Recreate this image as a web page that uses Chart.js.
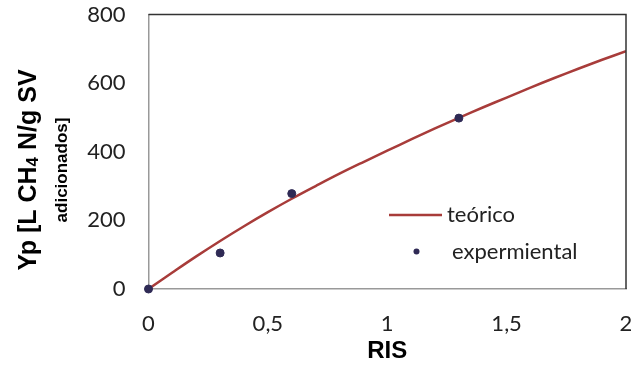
<!DOCTYPE html>
<html>
<head>
<meta charset="utf-8">
<script src="https://cdn.jsdelivr.net/npm/chart.js@4"></script>
<style>
  html, body { margin: 0; padding: 0; background: #fff; }
  #wrap { width: 631px; height: 366px; }
</style>
</head>
<body>
<div id="wrap"><canvas id="yp"></canvas></div>
<script>
// curva teórica (RIS vs Yp)
const risTeo = [0, 0.1, 0.2, 0.3, 0.4, 0.5, 0.6, 0.7, 0.8, 0.9, 1.0, 1.1, 1.2, 1.3, 1.4, 1.5, 1.6, 1.7, 1.8, 1.9, 2.0]
const ypTeo = [0, 48, 95, 140, 183, 224, 263, 300, 336, 370, 403, 436, 468, 499, 529, 558, 587, 615, 642, 668, 693]

// puntos experimentales
const risExp = [0, 0.3, 0.6, 1.3]
const ypExp = [0, 105, 278, 498]

const xTickLabels = ['0', '0,5', '1', '1,5', '2']
const yTickLabels = ['0', '200', '400', '600', '800']

const tickFont = { family: 'Lato', size: 22 }
const lineColor = '#a83c3a'
const dotColor = '#2f2a55'

function noPad(s) {
    s.paddingLeft = 0
    s.paddingRight = 0
    s.paddingTop = 0
    s.paddingBottom = 0
}

// marco superior y derecho del área de trazado + título del eje Y + leyenda
const extras = {
    id: 'extras',
    afterDraw(chart) {
        const { ctx, chartArea: a } = chart
        ctx.save()
        ctx.strokeStyle = '#333'
        ctx.lineWidth = 1.5
        ctx.beginPath()
        ctx.moveTo(a.left, a.top)
        ctx.lineTo(a.right, a.top)
        ctx.lineTo(a.right, a.bottom)
        ctx.stroke()

        // título eje Y, girado
        ctx.translate(29, 170)
        ctx.rotate(-Math.PI / 2)
        ctx.fillStyle = '#000'
        ctx.textBaseline = 'middle'
        const parts = [
            { t: 'Yp [L CH', f: 'bold 25px "Liberation Sans"', dy: 0 },
            { t: '4', f: 'bold 17px "Liberation Sans"', dy: 4 },
            { t: ' N/g SV', f: 'bold 25px "Liberation Sans"', dy: 0 },
        ]
        let w = 0
        parts.forEach(p => { ctx.font = p.f; w += ctx.measureText(p.t).width })
        let x = -w / 2
        ctx.textAlign = 'left'
        parts.forEach(p => {
            ctx.font = p.f
            ctx.fillText(p.t, x, p.dy)
            x += ctx.measureText(p.t).width
        })
        ctx.font = 'bold 17px "Liberation Sans"'
        ctx.textAlign = 'center'
        ctx.fillText('adicionados]', 0, 33)
        ctx.restore()

        // leyenda
        ctx.save()
        ctx.font = '22px Lato'
        ctx.fillStyle = '#222'
        ctx.textBaseline = 'middle'
        ctx.strokeStyle = lineColor
        ctx.lineWidth = 2.5
        ctx.beginPath()
        ctx.moveTo(389, 215)
        ctx.lineTo(442, 215)
        ctx.stroke()
        ctx.fillText(chart.data.datasets[0].label, 447, 215)
        ctx.fillStyle = dotColor
        ctx.beginPath()
        ctx.arc(416.5, 251.5, 3, 0, Math.PI * 2)
        ctx.fill()
        ctx.fillStyle = '#222'
        ctx.fillText(chart.data.datasets[1].label, 452, 251.5)
        ctx.restore()
    }
}

new Chart(document.getElementById('yp'), {
    type: 'scatter',
    data: {
        datasets: [
            {
                label: 'teórico',
                data: risTeo.map((r, i) => ({ x: r, y: ypTeo[i] })),
                showLine: true,
                borderColor: lineColor,
                borderWidth: 2.5,
                pointRadius: 0,
                tension: 0.4,
                order: 2,
            },
            {
                label: 'expermiental',
                data: risExp.map((r, i) => ({ x: r, y: ypExp[i] })),
                backgroundColor: dotColor,
                borderColor: dotColor,
                pointRadius: 4,
                clip: false,
                order: 1,
            },
        ],
    },
    options: {
        responsive: true,
        maintainAspectRatio: false,
        animation: false,
        layout: { padding: { top: 14.5, right: 4, left: 0, bottom: 0 } },
        plugins: {
            legend: { display: false },
            tooltip: { enabled: false },
        },
        scales: {
            x: {
                type: 'linear',
                min: 0,
                max: 2,
                afterFit(s) { s.height = 77; noPad(s) },
                afterBuildTicks(s) {
                    s.ticks = xTickLabels.map((l, i) => ({ value: i * 0.5 }))
                },
                grid: { display: false, drawTicks: false },
                border: { color: '#999', width: 1.5 },
                ticks: {
                    color: '#222',
                    font: tickFont,
                    padding: 22,
                    callback: (v, i) => xTickLabels[i],
                },
                title: {
                    display: true,
                    text: 'RIS',
                    color: '#000',
                    font: { family: 'Liberation Sans', size: 24, weight: 'bold' },
                    padding: { top: 0, bottom: 0 },
                },
            },
            y: {
                min: 0,
                max: 800,
                afterFit(s) { s.width = 148.5; noPad(s) },
                afterBuildTicks(s) {
                    s.ticks = yTickLabels.map(l => ({ value: Number(l) }))
                },
                grid: { display: false, drawTicks: false },
                border: { color: '#999', width: 1.5 },
                ticks: {
                    color: '#222',
                    font: tickFont,
                    padding: 23,
                    callback: (v, i) => yTickLabels[i],
                },
            },
        },
    },
    plugins: [extras],
})
</script>
</body>
</html>
